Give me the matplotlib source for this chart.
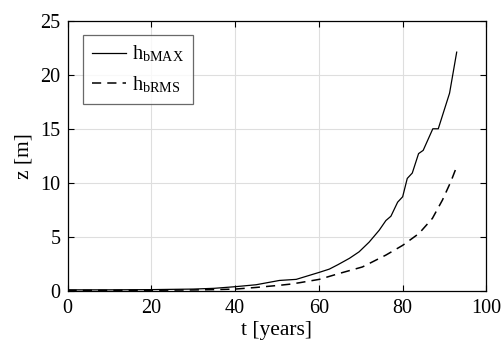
import matplotlib
matplotlib.use("Agg")
import matplotlib.pyplot as plt

t_max = [0, 10, 20, 30, 35, 40, 45, 50.6, 54.6, 60.1, 62.5, 64.5, 67.3, 69.6, 72.0, 74.4, 76.0, 77.2,
         78.8, 80.0, 81.1, 82.3, 83.8, 84.9, 87.2, 88.5, 91.2, 92.9]
h_max = [0.08, 0.08, 0.1, 0.15, 0.22, 0.37, 0.55, 0.95, 1.05, 1.7, 2.0, 2.4, 3.0, 3.6, 4.5, 5.6, 6.5, 6.9,
         8.2, 8.7, 10.4, 10.9, 12.7, 13.0, 15.0, 15.0, 18.3, 22.1]

t_rms = [0, 10, 20, 30, 35, 40, 45, 50.6, 53, 55.4, 60.1, 64.9, 70.4, 76.0, 80.0, 83.9, 87.1, 89.5,
         91.5, 92.9]
h_rms = [0.03, 0.03, 0.04, 0.07, 0.1, 0.15, 0.3, 0.5, 0.6, 0.74, 1.05, 1.6, 2.2, 3.3, 4.2, 5.3, 6.7, 8.4,
         10.1, 11.5]

xticks = [0, 20, 40, 60, 80, 100]
yticks = [0, 5, 10, 15, 20, 25]

plt.rcParams['font.family'] = ['Liberation Serif', 'DejaVu Serif']
plt.rcParams['mathtext.fontset'] = 'stix'

fig = plt.figure(figsize=(5.02, 3.53), dpi=100)
ax = fig.add_axes([0.1345, 0.1765, 0.8345, 0.7645])
ax.plot(t_max, h_max, color='black', lw=0.9, label=r'h$_\mathregular{bMAX}$')
ax.plot(t_rms, h_rms, color='black', lw=1.1, ls=(0, (6, 4)), label=r'h$_\mathregular{bRMS}$')
ax.set_xlim(0, 100)
ax.set_ylim(0, 25)
ax.set_xticks(xticks)
ax.set_yticks(yticks)
ax.grid(True, color='#dedede', lw=0.8)
ax.tick_params(direction='in', top=True, right=True, labelsize=14.5, length=4, width=0.8)
ax.tick_params(axis='x', pad=6)
ax.tick_params(axis='y', pad=5)
for s in ax.spines.values():
    s.set_linewidth(0.9)
ax.set_xlabel('t [years]', fontsize=15.5, labelpad=2)
ax.set_ylabel('z [m]', fontsize=15.5, labelpad=5)
leg = ax.legend(loc='upper left', fontsize=14.5, frameon=True, fancybox=False,
                edgecolor='#444444', handlelength=1.7, handletextpad=0.3, borderpad=0.45,
                labelspacing=0.5, borderaxespad=0,
                bbox_to_anchor=(0.037, 0.948))
leg.get_frame().set_linewidth(0.9)
fig.savefig('out.png', dpi=100)
